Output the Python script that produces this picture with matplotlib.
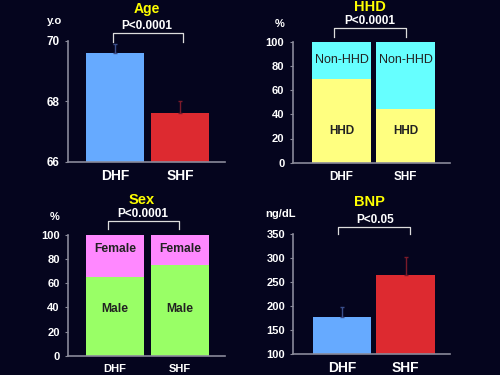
import matplotlib
matplotlib.use("Agg")
import matplotlib.pyplot as plt

groups = ["DHF", "SHF"]

age_mean = [69.6, 67.6]
age_err = [0.3, 0.4]

hhd_yes = [69, 44]
hhd_no = [31, 56]

male = [65, 75]
female = [35, 25]

bnp_mean = [178, 265]
bnp_err = [21, 38]

BG = "#05051e"
AXC = "#8a8a9a"
BLUE, RED = "#66aaff", "#dd2a30"
BLUE_E, RED_E = "#3a4e8a", "#7a1a2a"
YEL, CYAN = "#ffff80", "#66ffff"
PINK, GREEN = "#ff88ff", "#99ff66"

plt.rcParams["font.family"] = ["Liberation Sans", "DejaVu Sans"]
plt.rcParams["font.weight"] = "bold"

fig = plt.figure(figsize=(5, 3.75), dpi=100, facecolor=BG)
W, H = 500.0, 375.0


def make_ax(left, right, top, bottom, tsize=8):
    ax = fig.add_axes([left / W, 1 - bottom / H, (right - left) / W, (bottom - top) / H])
    ax.set_facecolor(BG)
    for s in ("top", "right"):
        ax.spines[s].set_visible(False)
    for s in ("left", "bottom"):
        ax.spines[s].set_color(AXC)
        ax.spines[s].set_linewidth(1.2)
    ax.tick_params(axis="y", colors=AXC, labelcolor="white", labelsize=tsize, length=2, pad=4)
    ax.tick_params(axis="x", length=0, labelcolor="white")
    return ax


def bracket(ax, x0, x1, ylo, yhi):
    ax.plot([x0, x0, x1, x1], [ylo, yhi, yhi, ylo], color="#dddddd", lw=0.9, clip_on=False)


def ftext(x, y, s, **kw):
    fig.text(x / W, 1 - y / H, s, ha="center", va="center", fontweight="bold", **kw)


# Age
ax = make_ax(68, 225, 41, 161.7, tsize=8.5)
ax.bar([0, 1], age_mean, width=0.89, color=[BLUE, RED], bottom=0)
for i, c in enumerate([BLUE_E, RED_E]):
    ax.errorbar(i, age_mean[i], yerr=[[0], [age_err[i]]], color=c, lw=1, capsize=1.2)
ax.set_ylim(66, 70)
ax.set_yticks([66, 68, 70])
ax.set_xlim(-0.723, 1.692)
ax.set_xticks([0, 1], groups, fontsize=10)
ax.tick_params(axis="x", pad=5)
bracket(ax, -0.03, 1.046, 69.97, 70.27)
ftext(147, 9, "Age", color="#ffff00", fontsize=10)
ftext(147, 26, "P<0.0001", color="white", fontsize=8.5)
ftext(54, 21, "y.o", color="white", fontsize=8)

# HHD
ax = make_ax(292.7, 450, 41.7, 162.7)
ax.bar([0, 1], hhd_yes, width=0.92, color=YEL)
ax.bar([0, 1], hhd_no, width=0.92, bottom=hhd_yes, color=CYAN)
ax.set_ylim(0, 100)
ax.set_yticks(range(0, 101, 20))
ax.set_xlim(-0.7625, 1.695)
ax.set_xticks([0, 1], groups, fontsize=8.5)
ax.tick_params(axis="x", pad=6)
for i in range(2):
    ax.text(i, 85, "Non-HHD", ha="center", va="center", fontsize=9, color="#222222", fontweight="normal")
    ax.text(i, 26, "HHD", ha="center", va="center", fontsize=8.5, color="#222222")
bracket(ax, -0.117, 1.003, 103.9, 111.3)
ftext(370, 7, "HHD", color="#ffff00", fontsize=10.5)
ftext(370, 21, "P<0.0001", color="white", fontsize=8.5)
ftext(280, 24, "%", color="white", fontsize=8)

# Sex
ax = make_ax(68, 225, 235, 355.7)
ax.bar([0, 1], male, width=0.89, color=GREEN)
ax.bar([0, 1], female, width=0.89, bottom=male, color=PINK)
ax.set_ylim(0, 100)
ax.set_yticks(range(0, 101, 20))
ax.set_xlim(-0.723, 1.692)
ax.set_xticks([0, 1], groups, fontsize=8)
ax.tick_params(axis="x", pad=6)
for i in range(2):
    ax.text(i, 88, "Female", ha="center", va="center", fontsize=8.7, color="#222222")
    ax.text(i, 39, "Male", ha="center", va="center", fontsize=8.7, color="#222222")
bracket(ax, -0.108, 0.985, 105, 111.6)
ftext(142, 200.5, "Sex", color="#ffff00", fontsize=10.5)
ftext(143, 214, "P<0.0001", color="white", fontsize=8.5)
ftext(55, 216.5, "%", color="white", fontsize=8)

# BNP
ax = make_ax(293.3, 450, 234, 354.3)
ax.bar([0, 1], bnp_mean, width=0.92, color=[BLUE, RED], bottom=0)
for i, c in enumerate([BLUE_E, RED_E]):
    ax.errorbar(i, bnp_mean[i], yerr=[[0], [bnp_err[i]]], color=c, lw=1, capsize=1.2)
ax.set_ylim(100, 350)
ax.set_yticks(range(100, 351, 50))
ax.set_xlim(-0.7625, 1.695)
ax.set_xticks([0, 1], groups, fontsize=10)
ax.tick_params(axis="x", pad=5)
bracket(ax, -0.055, 1.07, 350, 365)
ftext(369, 201.5, "BNP", color="#ffff00", fontsize=10.5)
ftext(375, 220, "P<0.05", color="white", fontsize=8.5)
ftext(280, 214, "ng/dL", color="white", fontsize=8)

fig.savefig("out.png", dpi=100, facecolor=BG)
